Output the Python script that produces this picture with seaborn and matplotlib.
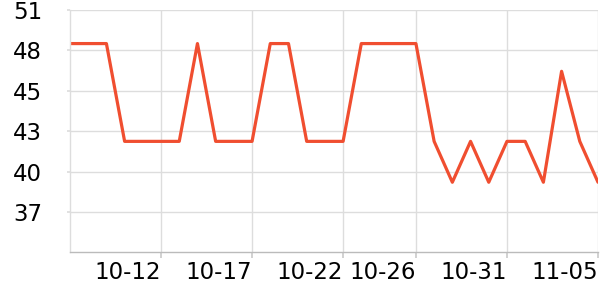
import matplotlib
matplotlib.use("Agg")
import matplotlib.pyplot as plt
import seaborn as sns
import numpy as np
import pandas as pd

dates = pd.date_range("2023-10-07", "2023-11-05", freq="D")
values = [48.7, 48.7, 48.7, 42.0, 42.0, 42.0, 42.0, 48.7, 42.0, 42.0,
          42.0, 48.7, 48.7, 42.0, 42.0, 42.0, 48.7, 48.7, 48.7, 48.7,
          42.0, 39.2, 42.0, 39.2, 42.0, 42.0, 39.2, 46.8, 42.0, 39.2]
tick_dates = ["2023-10-12", "2023-10-17", "2023-10-22", "2023-10-26", "2023-10-31", "2023-11-05"]
tick_labels = ["10-12", "10-17", "10-22", "10-26", "10-31", "11-05"]
y_min, y_max = 34.4, 51.0
y_tick_labels = ["51", "48", "45", "43", "40", "37"]

df = pd.DataFrame({"date": dates, "value": values})

sns.set_theme(style="white")
plt.rcParams["font.family"] = ["DejaVu Sans"]

fig = plt.figure(figsize=(6, 3), dpi=100)
ax = fig.add_axes([70/600, (300-252.3)/300, (598-70)/600, (252.3-10)/300])

sns.lineplot(data=df, x="date", y="value", ax=ax, color="#f04e30", linewidth=2.3)

ax.set_xlim(dates[0], dates[-1])
ax.set_ylim(y_min, y_max)

yt = np.linspace(y_max, y_min, 7)[:6]
ax.set_yticks(yt)
ax.set_yticklabels(y_tick_labels)
ax.set_xticks(pd.to_datetime(tick_dates))
ax.set_xticklabels(tick_labels, ha="right")

ax.grid(True, color="#dddddd", linewidth=1)
ax.set_axisbelow(True)
for s in ["top", "right"]:
    ax.spines[s].set_visible(False)
ax.spines["left"].set_color("#dddddd")
ax.spines["left"].set_linewidth(1)
ax.spines["bottom"].set_color("#bbbbbb")
ax.spines["bottom"].set_linewidth(1)

ax.tick_params(axis="y", length=2, color="#dddddd", pad=18, labelsize=16.5, labelcolor="#000000", left=True)
ax.tick_params(axis="x", length=4, color="#cccccc", pad=2, labelsize=16.5, labelcolor="#000000", bottom=True)
ax.set_xlabel("")
ax.set_ylabel("")

fig.savefig("out.png", dpi=100)
